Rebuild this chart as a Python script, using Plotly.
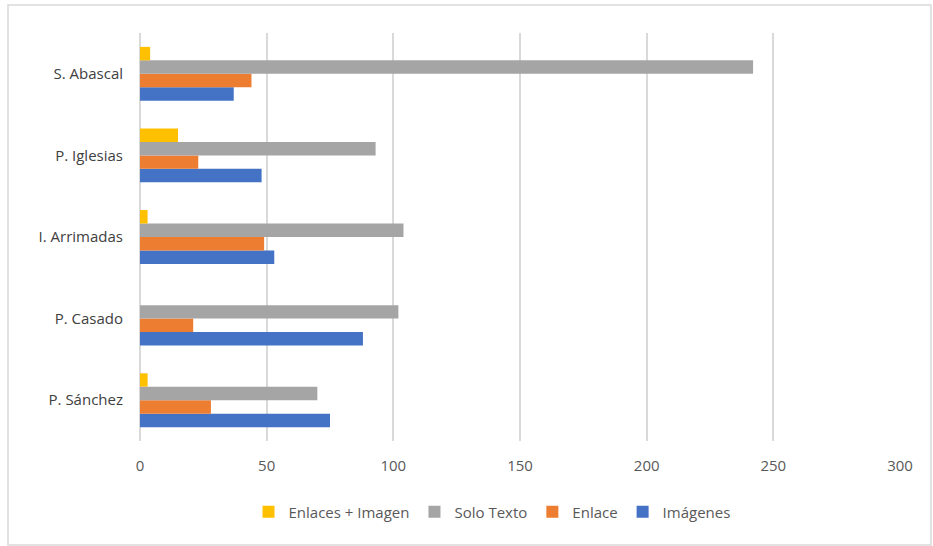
import plotly.graph_objects as go

categories = ["P. Sánchez", "P. Casado", "I. Arrimadas", "P. Iglesias", "S. Abascal"]
imagenes = [75, 88, 53, 48, 37]
enlace = [28, 21, 49, 23, 44]
solo_texto = [70, 102, 104, 93, 242]
enlaces_imagen = [3, 0, 3, 15, 4]

series = [
    ("Imágenes", imagenes, "#4472C4"),
    ("Enlace", enlace, "#ED7D31"),
    ("Solo Texto", solo_texto, "#A5A5A5"),
    ("Enlaces + Imagen", enlaces_imagen, "#FFC000"),
]

fig = go.Figure()
for name, vals, color in series:
    fig.add_trace(go.Bar(
        y=categories, x=vals, name=name, orientation="h",
        marker=dict(color=color, line=dict(width=0)),
    ))

L, R, T, B = 140, 33, 33, 105
W, H = 933, 546
pw, ph = W - L - R, H - T - B

fig.update_layout(
    width=W, height=H,
    margin=dict(l=L, r=R, t=T, b=B),
    paper_bgcolor="white", plot_bgcolor="white",
    barmode="group", bargap=0.34, bargroupgap=0,
    font=dict(family="Open Sans, Liberation Sans, sans-serif", size=15, color="#595959"),
    xaxis=dict(
        range=[0, 300], tickvals=[0, 50, 100, 150, 200, 250, 300],
        showgrid=True, gridcolor="#D9D9D9", gridwidth=1.5,
        zeroline=True, zerolinecolor="#D9D9D9", zerolinewidth=1.5,
        showline=False, ticks="", ticklabelstandoff=14,
        tickfont=dict(size=15, color="#595959"),
    ),
    yaxis=dict(
        showgrid=False, zeroline=False, showline=False, ticks="",
        ticklabelstandoff=16, tickfont=dict(size=15, color="#404040"),
    ),
    legend=dict(
        orientation="h", traceorder="reversed",
        x=(492 - L) / pw, xanchor="center",
        y=(H - B - 512) / ph, yanchor="middle",
        font=dict(size=15, color="#595959"),
        itemwidth=30,
    ),
    shapes=[dict(
        type="rect", xref="paper", yref="paper",
        x0=(8 - L) / pw, x1=(931 - L) / pw,
        y0=(H - B - 545) / ph, y1=(H - B - 5) / ph,
        line=dict(color="#D9D9D9", width=1.5), fillcolor="rgba(0,0,0,0)",
        layer="below",
    )],
)

fig.write_html("out.html")
